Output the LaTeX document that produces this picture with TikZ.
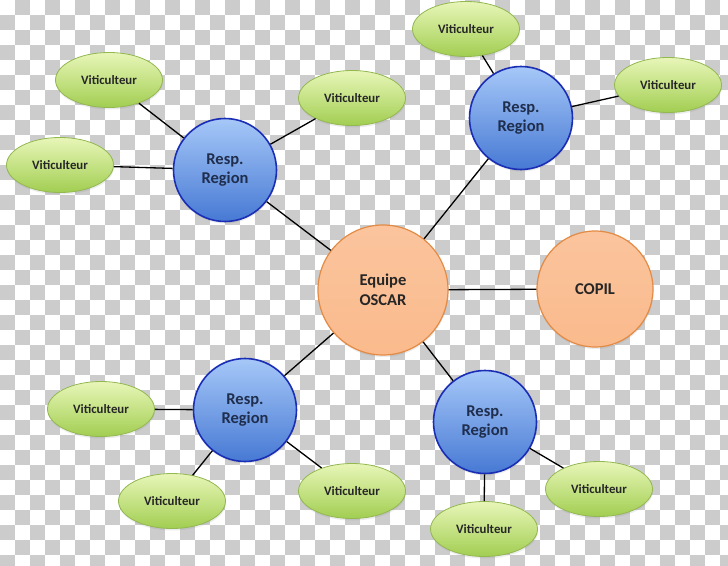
\documentclass[tikz,border=0pt]{standalone}
\usepackage{fontspec}
\setmainfont{Carlito}
\usetikzlibrary{shapes.geometric,shadows}
\definecolor{vitilight}{HTML}{E8F6B8}
\definecolor{vitidark}{HTML}{A2CE52}
\definecolor{vitiline}{HTML}{93B852}
\definecolor{resplight}{HTML}{A6C8F8}
\definecolor{respdark}{HTML}{4779D4}
\definecolor{respline}{HTML}{1A2DB5}
\definecolor{resptext}{HTML}{1F2E4D}
\definecolor{oscarfill}{HTML}{FABA8C}
\definecolor{oscarline}{HTML}{E38B45}
\definecolor{damier}{HTML}{CCCCCC}
\tikzset{
  viti/.style={
    ellipse, draw=vitiline, line width=0.8pt,
    top color=vitilight, bottom color=vitidark,
    minimum width=107pt, minimum height=55pt, inner sep=0pt,
    drop shadow={opacity=0.15, shadow xshift=0.5pt, shadow yshift=-2pt},
    font=\bfseries\fontsize{12.8}{14}\selectfont, text=black!85
  },
  resp/.style={
    circle, draw=respline, line width=1.6pt,
    top color=resplight, bottom color=respdark,
    minimum size=103pt, inner sep=0pt, align=center,
    drop shadow={opacity=0.15, shadow xshift=0.5pt, shadow yshift=-2pt},
    font=\bfseries\fontsize{16.5}{19}\selectfont, text=resptext
  },
  oscar/.style={
    circle, draw=oscarline, line width=1.2pt,
    top color=oscarfill!85!white, bottom color=oscarfill,
    inner sep=0pt, align=center,
    drop shadow={opacity=0.15, shadow xshift=0.5pt, shadow yshift=-2pt},
    font=\bfseries\fontsize{16.5}{20}\selectfont, text=black!85
  },
  lien/.style={line width=1.3pt}
}
\begin{document}
\begin{tikzpicture}[x=1pt,y=-1pt]
\useasboundingbox (0,0) rectangle (728,565);
%damier de fond, cases de 15
\fill[white] (0,0) rectangle (728,565);
\foreach \i in {0,...,48}{
  \foreach \j in {0,...,37}{
    \pgfmathtruncatemacro{\cbodd}{mod(\i+\j,2)}
    \ifnum\cbodd=1 \fill[damier] (15*\i,15*\j) rectangle ++(15,15); \fi
  }
}
%centre
\node[oscar, minimum size=130pt] (equipe) at (383,290) {Equipe\\OSCAR};
\node[oscar, minimum size=116pt] (copil) at (595,289) {COPIL};
%responsables
\node[resp] (rtl) at (225,170) {Resp.\\Region};
\node[resp] (rtr) at (521,118) {Resp.\\Region};
\node[resp] (rbl) at (245,410) {Resp.\\Region};
\node[resp] (rbr) at (485,422) {Resp.\\Region};
%viticulteurs
\node[viti] (vtl1) at (109,80) {Viticulteur};
\node[viti] (vtl2) at (352,98) {Viticulteur};
\node[viti] (vtl3) at (60,165) {Viticulteur};
\node[viti] (vtr1) at (466,29) {Viticulteur};
\node[viti] (vtr2) at (668,85) {Viticulteur};
\node[viti] (vbl1) at (101,409) {Viticulteur};
\node[viti] (vbl2) at (172,501) {Viticulteur};
\node[viti] (vbl3) at (352,491) {Viticulteur};
\node[viti] (vbr1) at (599,489) {Viticulteur};
\node[viti] (vbr2) at (484,529) {Viticulteur};
%liens
\draw[lien] (equipe) -- (rtl);
\draw[lien] (equipe) -- (rtr);
\draw[lien] (equipe) -- (rbl);
\draw[lien] (equipe) -- (rbr);
\draw[lien] (equipe) -- (copil);
\draw[lien] (rtl) -- (vtl1);
\draw[lien] (rtl) -- (vtl2);
\draw[lien] (rtl) -- (vtl3);
\draw[lien] (rtr) -- (vtr1);
\draw[lien] (rtr) -- (vtr2);
\draw[lien] (rbl) -- (vbl1);
\draw[lien] (rbl) -- (vbl2);
\draw[lien] (rbl) -- (vbl3);
\draw[lien] (rbr) -- (vbr1);
\draw[lien] (rbr) -- (vbr2);
\end{tikzpicture}
\end{document}
